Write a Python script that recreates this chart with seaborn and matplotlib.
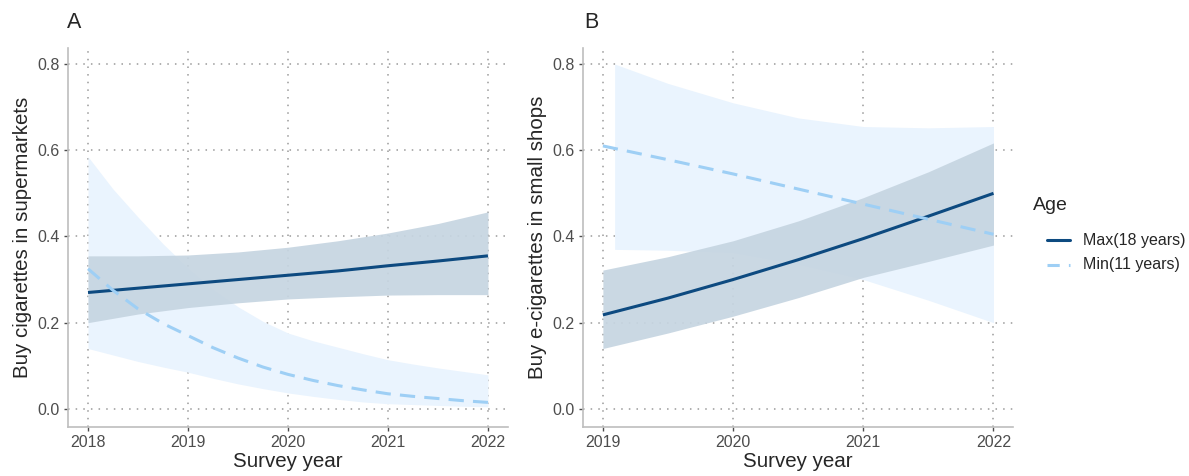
import numpy as np
import pandas as pd
import matplotlib.pyplot as plt
import seaborn as sns
from matplotlib.lines import Line2D

# Panel A - cigarettes in supermarkets
years_a = [2018, 2018.5, 2019, 2019.5, 2020, 2020.5, 2021, 2021.5, 2022]
a_max_fit = [0.270, 0.280, 0.290, 0.300, 0.310, 0.320, 0.332, 0.343, 0.355]
a_max_lo = [0.200, 0.220, 0.235, 0.246, 0.255, 0.260, 0.264, 0.265, 0.265]
a_max_hi = [0.355, 0.355, 0.357, 0.364, 0.375, 0.390, 0.408, 0.430, 0.457]
years_a_min = [2018, 2018.25, 2018.5, 2018.75, 2019, 2019.25, 2019.5, 2019.75, 2020,
               2020.25, 2020.5, 2020.75, 2021, 2021.25, 2021.5, 2021.75, 2022]
a_min_fit = [0.325, 0.275, 0.232, 0.198, 0.170, 0.142, 0.118, 0.097, 0.080,
             0.066, 0.054, 0.044, 0.035, 0.029, 0.024, 0.019, 0.015]
a_min_lo = [0.140, 0.125, 0.110, 0.097, 0.085, 0.071, 0.058, 0.047, 0.037,
            0.029, 0.022, 0.016, 0.012, 0.010, 0.008, 0.006, 0.005]
a_min_hi = [0.585, 0.510, 0.445, 0.383, 0.327, 0.278, 0.237, 0.203, 0.176,
            0.158, 0.143, 0.128, 0.114, 0.104, 0.095, 0.087, 0.079]

# Panel B - e-cigarettes in small shops
years_b = [2019, 2019.5, 2020, 2020.5, 2021, 2021.5, 2022]
b_max_fit = [0.218, 0.257, 0.300, 0.346, 0.395, 0.447, 0.500]
b_max_lo = [0.140, 0.176, 0.215, 0.258, 0.305, 0.342, 0.380]
b_max_hi = [0.322, 0.353, 0.390, 0.436, 0.490, 0.550, 0.617]
b_min_fit = [0.610, 0.578, 0.545, 0.510, 0.475, 0.440, 0.405]
years_b_rib = [2019.09, 2019.5, 2020, 2020.5, 2021, 2021.5, 2022]
b_min_lo = [0.370, 0.368, 0.362, 0.335, 0.300, 0.252, 0.200]
b_min_hi = [0.800, 0.755, 0.710, 0.675, 0.655, 0.652, 0.655]

labels = ['Max(18 years)', 'Min(11 years)']
dark = '#0D4A80'
light = '#9ECFF5'
rib_dark = '#C6D5E1'
rib_light = '#EAF4FE'

sns.set_style('white')
plt.rcParams['font.family'] = ['Liberation Sans', 'DejaVu Sans']

fig = plt.figure(figsize=(11.89, 4.76), dpi=100)
ax_a = fig.add_axes([0.0572, 0.103, 0.370, 0.796])
ax_b = fig.add_axes([0.4903, 0.103, 0.3617, 0.796])


def draw_panel(ax, yrs, max_fit, max_lo, max_hi, yrs_rib, min_fit, min_lo, min_hi, yrs_min):
    ax.fill_between(yrs_rib, min_lo, min_hi, color=rib_light, lw=0, zorder=1)
    ax.fill_between(yrs, max_lo, max_hi, color=rib_dark, alpha=0.92, lw=0, zorder=2)
    df = pd.DataFrame({
        'year': list(yrs) + list(yrs_min),
        'prob': list(max_fit) + list(min_fit),
        'Age': [labels[0]] * len(yrs) + [labels[1]] * len(yrs_min),
    })
    sns.lineplot(data=df, x='year', y='prob', hue='Age', style='Age',
                 palette=[dark, light], dashes=[(1, 0), (5, 3)],
                 lw=2.2, ax=ax, legend=False, zorder=3)
    ax.set_ylim(-0.042, 0.837)
    ax.set_yticks([0, 0.2, 0.4, 0.6, 0.8])
    ax.set_yticklabels(['0.0', '0.2', '0.4', '0.6', '0.8'])
    ax.grid(True, ls=(0, (1, 4)), color='#9A9A9A', lw=1.1)
    ax.set_axisbelow(True)
    for s in ['top', 'right']:
        ax.spines[s].set_visible(False)
    for s in ['left', 'bottom']:
        ax.spines[s].set_color('#BEBEBE')
        ax.spines[s].set_linewidth(1.2)
    ax.tick_params(axis='both', labelcolor='#4D4D4D', color='#4D4D4D',
                   labelsize=11.5, length=3, width=1, direction='out',
                   left=True, bottom=True, pad=3)
    ax.set_xlabel('Survey year', fontsize=14.8, labelpad=1)


draw_panel(ax_a, years_a, a_max_fit, a_max_lo, a_max_hi, years_a_min,
           a_min_fit, a_min_lo, a_min_hi, years_a_min)
ax_a.set_xlim(2017.8, 2022.2)
ax_a.set_xticks([2018, 2019, 2020, 2021, 2022])
ax_a.set_ylabel('Buy cigarettes in supermarkets', fontsize=14.8, labelpad=4)

draw_panel(ax_b, years_b, b_max_fit, b_max_lo, b_max_hi, years_b_rib,
           b_min_fit, b_min_lo, b_min_hi, years_b)
ax_b.set_xlim(2018.847, 2022.15)
ax_b.set_xticks([2019, 2020, 2021, 2022])
ax_b.set_ylabel('Buy e-cigarettes in small shops', fontsize=14.8, labelpad=4)

fig.text(0.056, 0.952, 'A', fontsize=15.5, ha='left', va='center')
fig.text(0.491, 0.952, 'B', fontsize=15.5, ha='left', va='center')

# legend (ggplot-style, keys indented under the title)
W, H = 1189, 476
fig.text(1033 / W, 1 - 205 / H, 'Age', fontsize=14, ha='left', va='center')
key_styles = [dict(color=dark, lw=2.2),
              dict(color=light, lw=2.2, ls=(0, (4, 3)))]
for i, (lab, st) in enumerate(zip(labels, key_styles)):
    yk = 1 - (240 + 25 * i) / H
    fig.add_artist(Line2D([1047 / W, 1070 / W], [yk, yk], transform=fig.transFigure, **st))
    fig.text(1083 / W, yk, lab, fontsize=11.5, ha='left', va='center')

fig.savefig('out.png', dpi=100)
